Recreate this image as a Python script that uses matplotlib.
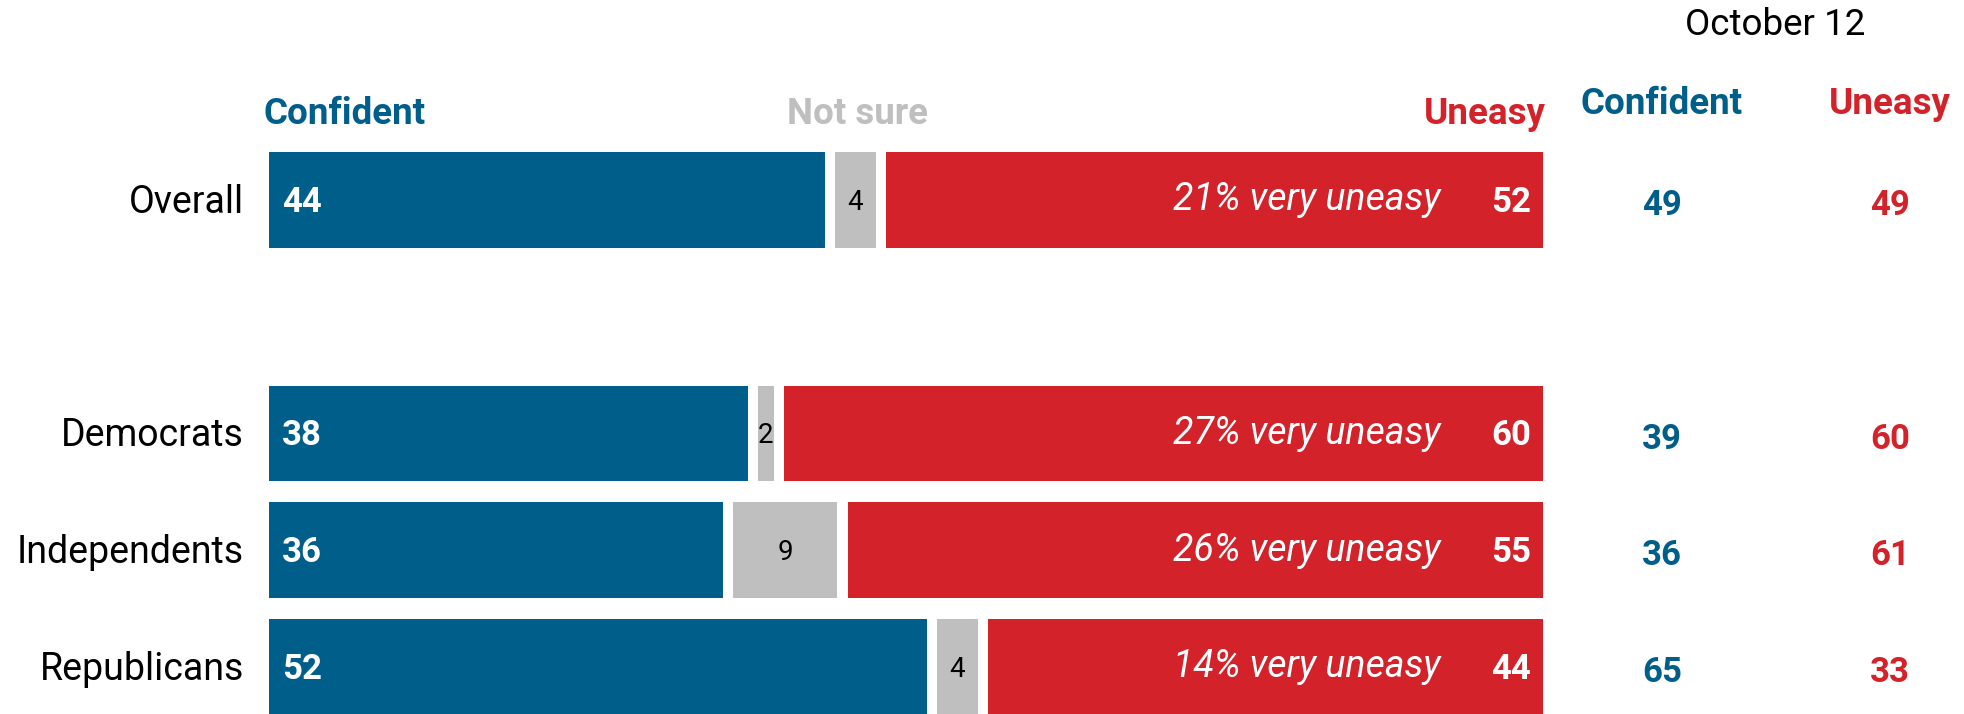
import numpy as np
import matplotlib.pyplot as plt

# Survey shares (percent) by group
groups = ['Overall', 'Democrats', 'Independents', 'Republicans']
confident = [44, 38, 36, 52]
not_sure = [4, 2, 9, 4]
uneasy = [52, 60, 55, 44]
very_uneasy = [21, 27, 26, 14]

# Earlier wave for comparison
prev_label = 'October 12'
prev_confident = [49, 39, 36, 65]
prev_uneasy = [49, 60, 61, 33]

BLUE = '#005e8a'
RED = '#d3222a'
GRAY = '#bfbfbf'

plt.rcParams['font.family'] = ['Roboto', 'DejaVu Sans']

fig = plt.figure(figsize=(19.64, 7.14), dpi=100)
ax = fig.add_axes([0, 0, 1, 1])
ax.set_xlim(-21.1, 133.0)
ax.set_ylim(4.405, -1.714)
ax.axis('off')

ypos = np.array([0, 2, 3, 4])   # blank slot between Overall and the party rows
GAP = 0.8                       # white gap between segments
H = 0.82

c = np.array(confident)
n = np.array(not_sure)
u = np.array(uneasy)

ax.barh(ypos, c - GAP / 2, left=0, height=H, color=BLUE)
ax.barh(ypos, n - GAP, left=c + GAP / 2, height=H, color=GRAY)
ax.barh(ypos, u - GAP / 2, left=c + n + GAP / 2, height=H, color=RED)

for i, y in enumerate(ypos):
    ax.text(-1.95, y + 0.02, groups[i], ha='right', va='center', fontsize=27, color='black')
    ax.text(1.0, y + 0.02, str(confident[i]), ha='left', va='center',
            fontsize=25, color='white', fontweight='bold')
    ax.text(c[i] + n[i] / 2, y + 0.02, str(not_sure[i]), ha='center', va='center',
            fontsize=20, color='black')
    ax.text(99.05, y + 0.02, str(uneasy[i]), ha='right', va='center',
            fontsize=25, color='white', fontweight='bold')
    ax.text(91.9, y, f'{very_uneasy[i]}% very uneasy', ha='right', va='center',
            fontsize=27, color='white', style='italic')
    ax.text(109.3, y + 0.05, str(prev_confident[i]), ha='center', va='center',
            fontsize=25, color=BLUE, fontweight='bold')
    ax.text(127.2, y + 0.05, str(prev_uneasy[i]), ha='center', va='center',
            fontsize=25, color=RED, fontweight='bold')

# column headers
ax.text(-0.4, -0.74, 'Confident', ha='left', va='center', fontsize=26.5,
        color=BLUE, fontweight='bold')
ax.text(46.2, -0.74, 'Not sure', ha='center', va='center', fontsize=26.5,
        color=GRAY, fontweight='bold')
ax.text(100.2, -0.74, 'Uneasy', ha='right', va='center', fontsize=26.5,
        color=RED, fontweight='bold')
ax.text(109.3, -0.82, 'Confident', ha='center', va='center', fontsize=26.5,
        color=BLUE, fontweight='bold')
ax.text(127.2, -0.82, 'Uneasy', ha='center', va='center', fontsize=26.5,
        color=RED, fontweight='bold')
ax.text(118.2, -1.5, prev_label, ha='center', va='center', fontsize=26.5, color='black')

fig.savefig('out.png', dpi=100)
